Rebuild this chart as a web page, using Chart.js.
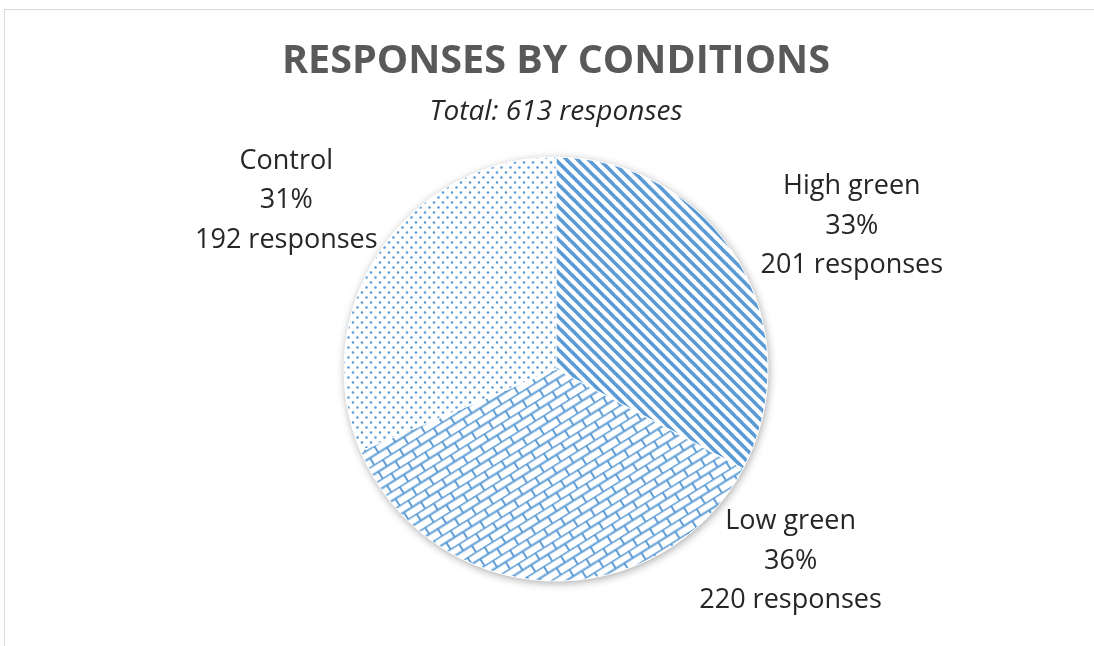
<!DOCTYPE html>
<html>
<head>
<meta charset="utf-8">
<script src="https://cdn.jsdelivr.net/npm/chart.js@4.4.1/dist/chart.umd.min.js"></script>
<style>
  html, body { margin: 0; padding: 0; background: #fff; }
  body { width: 1094px; height: 646px; overflow: hidden; position: relative; }
  #frame { position: absolute; left: 4px; top: 9px; width: 1200px; height: 700px;
           border-left: 1px solid #d9d9d9; border-top: 1px solid #d9d9d9; }
  #wrap { position: absolute; left: 0; top: 0; width: 1094px; height: 646px; }
</style>
</head>
<body>
<div id="frame"></div>
<div id="wrap"><canvas id="pieChart"></canvas></div>
<script>
/*Respuestas por condicion*/

const conditions = ['High green', 'Low green', 'Control'];
const responses = [201, 220, 192];
const percentLabels = ['33%', '36%', '31%'];
const totalResponses = 613;

const blue = '#5b9bd5';

// patrones de relleno tipo Excel
function makeTile(w, h, draw) {
    const c = document.createElement('canvas');
    c.width = w;
    c.height = h;
    const g = c.getContext('2d');
    g.fillStyle = '#fff';
    g.fillRect(0, 0, w, h);
    draw(g);
    return c;
}

const pctx = document.getElementById('pieChart').getContext('2d');

// rayas diagonales anchas
const stripeTile = makeTile(11, 11, function(g) {
    g.strokeStyle = blue;
    g.lineWidth = 3.7;
    for (let k = -1; k <= 1; k++) {
        g.beginPath();
        g.moveTo(k * 11 - 2, -2);
        g.lineTo(k * 11 + 13, 13);
        g.stroke();
    }
});

// ladrillos diagonales
const brickTile = makeTile(20, 16, function(g) {
    g.strokeStyle = blue;
    g.lineWidth = 1.9;
    g.beginPath();
    g.moveTo(0, 0.5); g.lineTo(20, 0.5);
    g.moveTo(0, 8.5); g.lineTo(20, 8.5);
    g.moveTo(1, 0); g.lineTo(1, 8.5);
    g.moveTo(11, 8.5); g.lineTo(11, 16);
    g.stroke();
});

// puntos
const dotTile = makeTile(9, 10, function(g) {
    g.fillStyle = blue;
    g.beginPath();
    g.arc(2, 2.5, 1.35, 0, Math.PI * 2);
    g.arc(6.5, 7.5, 1.35, 0, Math.PI * 2);
    g.fill();
});

const stripePattern = pctx.createPattern(stripeTile, 'repeat');
const brickPattern = pctx.createPattern(brickTile, 'repeat');
brickPattern.setTransform(new DOMMatrix().rotateSelf(-32));
const dotPattern = pctx.createPattern(dotTile, 'repeat');

// sombra suave detras del circulo
const pieShadow = {
    id: 'pieShadow',
    beforeDatasetsDraw(chart) {
        const arc = chart.getDatasetMeta(0).data[0];
        if (!arc) return;
        const ctx = chart.ctx;
        ctx.save();
        ctx.shadowColor = 'rgba(0,0,0,0.35)';
        ctx.shadowBlur = 9;
        ctx.shadowOffsetX = 1;
        ctx.shadowOffsetY = 2;
        ctx.fillStyle = '#fff';
        ctx.beginPath();
        ctx.arc(arc.x, arc.y, arc.outerRadius, 0, Math.PI * 2);
        ctx.fill();
        ctx.restore();
    }
};

// etiquetas fuera del circulo (angulo en grados, distancia relativa al radio)
const labelPlacement = [
    { angle: -25.8, dist: 1.55 },
    { angle: 39.3, dist: 1.43 },
    { angle: -148, dist: 1.5 }
];

const outsideLabels = {
    id: 'outsideLabels',
    afterDatasetsDraw(chart) {
        const ctx = chart.ctx;
        const meta = chart.getDatasetMeta(0);
        ctx.save();
        ctx.font = '27px "Open Sans"';
        ctx.fillStyle = '#262626';
        ctx.textAlign = 'center';
        ctx.textBaseline = 'middle';
        meta.data.forEach(function(arc, i) {
            const p = labelPlacement[i];
            const a = p.angle * Math.PI / 180;
            const cx = arc.x + Math.cos(a) * arc.outerRadius * p.dist;
            const cy = arc.y + Math.sin(a) * arc.outerRadius * p.dist;
            const lines = [conditions[i], percentLabels[i], responses[i] + ' responses'];
            lines.forEach(function(t, j) {
                ctx.fillText(t, cx, cy + (j - 1) * 39.5);
            });
        });
        ctx.restore();
    }
};

const pieChart = new Chart(pctx, {
    type: 'pie',
    data: {
        labels: conditions,
        datasets: [{
            label: 'Responses',
            data: responses,
            backgroundColor: [stripePattern, brickPattern, dotPattern],
            borderColor: '#ffffff',
            borderWidth: 1,
            hoverOffset: 0
        }]
    },
    options: {
        responsive: true,
        maintainAspectRatio: false,
        animation: false,
        radius: 212,
        layout: {
            padding: { left: 18, right: 0, top: 0, bottom: 43 }
        },
        plugins: {
            legend: { display: false },
            tooltip: { enabled: false },
            title: {
                display: true,
                text: 'RESPONSES BY CONDITIONS',
                color: '#595959',
                font: { family: '"Open Sans"', size: 39.5, weight: 'bold', lineHeight: 1.2 },
                padding: { top: 38, bottom: 11 }
            },
            subtitle: {
                display: true,
                text: 'Total: ' + totalResponses + ' responses',
                color: '#262626',
                font: { family: '"Open Sans"', size: 28, style: 'italic', lineHeight: 1.1 },
                padding: { top: 0, bottom: 8 }
            }
        }
    },
    plugins: [pieShadow, outsideLabels]
});

/*Respuestas por condicion*/
</script>
</body>
</html>
